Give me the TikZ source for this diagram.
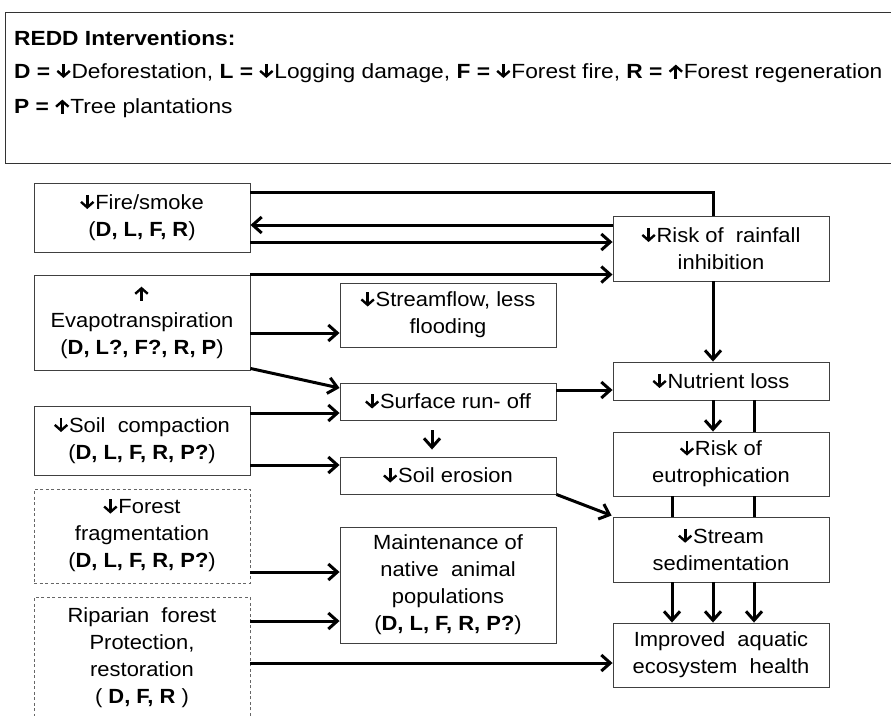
\documentclass[tikz,border=0pt]{standalone}
\usepackage{fontspec}
\setmainfont{Liberation Sans}[FakeStretch=1.07]
\newfontfamily\legfont{Liberation Sans}[FakeStretch=1.11]
\usetikzlibrary{arrows.meta,calc}
\newcommand{\dnarr}{\tikz[x=1pt,y=1pt,baseline=0pt]{\path[use as bounding box] (0,0) rectangle (15,14); \draw[line width=2.8pt,black,-{Straight Barb[length=5.5pt,width=12.5pt,line width=2.4pt]}] (7,14.5) -- (7,0.3);}}
\newcommand{\uparr}{\tikz[x=1pt,y=1pt,baseline=0pt]{\path[use as bounding box] (0,0) rectangle (15,14); \draw[line width=2.8pt,black,-{Straight Barb[length=5.5pt,width=12.5pt,line width=2.4pt]}] (7,-0.5) -- (7,13.7);}}
\tikzset{
  box/.style={draw=black!75, line width=0.9pt, fill=white, minimum width=216pt, align=center, inner sep=0pt, font=\fontsize{20.5}{27}\selectfont},
  dbox/.style={box, draw=black!60, dash pattern=on 3pt off 2.5pt},
  txt/.style={align=center, inner sep=0pt, font=\fontsize{20.5}{27}\selectfont},
  leg/.style={anchor=west, inner sep=0pt, font=\legfont\fontsize{20.5}{27}\selectfont},
  conn/.style={line width=3pt, black},
  arr/.style={conn, -{Straight Barb[length=9pt,width=16pt]}}
}
\begin{document}
\begin{tikzpicture}[x=1pt,y=-1pt]
\useasboundingbox (0,0) rectangle (891,715);
\clip (0,0) rectangle (891,715);
\fill[white] (0,0) rectangle (891,715);
% legend
\node[draw=black!80, line width=0.9pt, minimum width=920pt, minimum height=151pt, anchor=north west, inner sep=0pt] (legend) at (5,12) {};
\node[leg] (l1) at (14,38) {\textbf{REDD Interventions:}};
\node[leg] (l2) at (14,73) {\textbf{D =} \dnarr Deforestation, \textbf{L =} \dnarr Logging damage, \textbf{F =} \dnarr Forest fire, \textbf{R =} \uparr Forest regeneration};
\node[leg] (l3) at (14,108) {\textbf{P =} \uparr Tree plantations};
% left column
\node[box, minimum height=69pt] (fire) at (142,217.5) {\dnarr Fire/smoke\\(\textbf{D, L, F, R})};
\node[box, minimum height=95pt] (evap) at (142,322.5) {\uparr\\Evapotranspiration\\(\textbf{D, L?, F?, R, P})};
\node[box, minimum height=69pt] (soil) at (142,440.5) {\dnarr Soil\ \ compaction\\(\textbf{D, L, F, R, P?})};
\node[dbox, minimum height=94pt] (frag) at (142,536) {\dnarr Forest\\fragmentation\\(\textbf{D, L, F, R, P?})};
\node[dbox, minimum height=150pt, anchor=north] (ripa) at (142,597) {};
\node[txt] (ripatxt) at (142,658) {Riparian\ \ forest\\Protection,\\restoration\\( \textbf{D, F, R} )};
% middle column
\node[box, minimum height=64pt] (flow) at (448,315) {\dnarr Streamflow, less\\flooding};
\node[box, minimum height=37pt] (surf) at (448,401.5) {\dnarr Surface run- off};
\node[box, minimum height=37pt] (eros) at (448,475.5) {\dnarr Soil erosion};
\node[box, minimum height=116pt] (maint) at (448,585) {Maintenance of\\native\ \ animal\\populations\\(\textbf{D, L, F, R, P?})};
% right column
\node[box, minimum height=65pt] (rain) at (721,248.5) {\dnarr Risk of\ \ rainfall\\inhibition};
\node[box, minimum height=38pt] (nutr) at (721,381) {\dnarr Nutrient loss};
\node[box, minimum height=64pt] (eutr) at (721,464) {\dnarr Risk of\\eutrophication};
\node[box, minimum height=65pt] (sedi) at (721,549.5) {\dnarr Stream\\sedimentation};
\node[box, minimum height=64pt] (impr) at (721,655) {Improved\ \ aquatic\\ecosystem\ \ health};
% connectors
\draw[conn] (fire.east |- 0,192) -- (713,192) -- (rain.north -| 713,0);
\draw[arr] (rain.west |- 0,225) -- (fire.east |- 0,225);
\draw[arr] (fire.east |- 0,242) -- (rain.west |- 0,242);
\draw[arr] (evap.north east) -- (rain.west |- evap.north east);
\draw[arr] (evap.east |- 0,333) -- (flow.west |- 0,333);
\draw[arr] ($(evap.south east)+(0,-2)$) -- (surf.west |- 0,388);
\draw[arr] (soil.east |- 0,413) -- (surf.west |- 0,413);
\draw[arr] (soil.east |- 0,465) -- (eros.west |- 0,465);
\draw[arr, shorten <=10pt, shorten >=7pt] (surf.south -| 432,0) -- (eros.north -| 432,0);
\draw[arr] (surf.east |- 0,390) -- (nutr.west |- 0,390);
\draw[arr] (rain.south -| 713,0) -- (nutr.north -| 713,0);
\draw[arr] (nutr.south -| 713,0) -- (eutr.north -| 713,0);
\draw[conn] (nutr.south -| 754,0) -- (eutr.north -| 754,0);
\draw[conn] (eutr.south -| 754,0) -- (sedi.north -| 754,0);
\draw[conn] (eutr.south -| 672,0) -- (sedi.north -| 672,0);
\draw[arr] (eros.south east) -- ($(sedi.north west)+(-1,-1)$);
\draw[arr] (sedi.south -| 672,0) -- (impr.north -| 672,0);
\draw[arr] (sedi.south -| 713,0) -- (impr.north -| 713,0);
\draw[arr] (sedi.south -| 754,0) -- (impr.north -| 754,0);
\draw[arr] (frag.east |- 0,572) -- (maint.west |- 0,572);
\draw[arr] (ripa.east |- 0,621) -- (maint.west |- 0,621);
\draw[arr] (ripa.east |- 0,663) -- (impr.west |- 0,663);
\end{tikzpicture}
\end{document}
